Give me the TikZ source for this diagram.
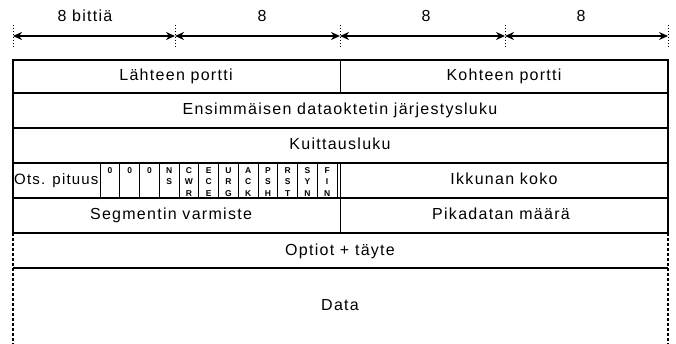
\documentclass[tikz,border=0pt]{standalone}
\usepackage{fontspec}
\setmainfont[LetterSpace=8]{Liberation Sans}
\usetikzlibrary{arrows.meta}

\tikzset{
  field/.style={font=\fontsize{16}{18}\selectfont, inner sep=0pt, text height=11pt, text depth=3pt},
  flagbit/.style={font=\fontsize{8.5}{11.5}\selectfont\bfseries, align=center, anchor=north, inner sep=0pt},
  thickline/.style={line width=2pt},
  thinline/.style={line width=0.9pt},
  tickline/.style={line width=0.9pt, dash pattern=on 1.5pt off 1.5pt},
  openside/.style={line width=2pt, dash pattern=on 3pt off 2pt},
  bitarrow/.style={line width=1.5pt, {Stealth[length=9pt,width=8pt]}-{Stealth[length=9pt,width=8pt]}}
}

\begin{document}
\begin{tikzpicture}[x=1pt,y=-1pt]
  \useasboundingbox (0,0) rectangle (676,344);

  % ruler
  \foreach \x [count=\i] in {13,175,340,505,668}{
    \draw[tickline] (\x,25) -- (\x,48);
    \coordinate (r\i) at (\x,36);
  }
  \foreach \a/\b in {1/2,2/3,3/4,4/5}
    \draw[bitarrow] (r\a) -- (r\b);
  \node[field] (w1) at (85,18) {8 bittiä};
  \node[field] (w2) at (262,18) {8};
  \node[field] (w3) at (426,18) {8};
  \node[field] (w4) at (581,18) {8};

  % frame and rows
  \draw[thickline] (13,233) -- (13,60) -- (668,60) -- (668,233);
  \foreach \y in {93,128,163,198,233,268}
    \draw[thickline] (13,\y) -- (668,\y);
  \draw[openside] (13,233) -- (13,344) (668,233) -- (668,344);

  % half words
  \draw[thinline] (340,60) -- (340,93) (340,163) -- (340,233);

  % flags
  \foreach \k in {0,...,12}
    \draw[thinline] ({100+19.75*\k},163) -- ({100+19.75*\k},198);
  \foreach \t [count=\k from 0] in {0,0,0,{N\\S},{C\\W\\R},{E\\C\\E},{U\\R\\G},{A\\C\\K},{P\\S\\H},{R\\S\\T},{S\\Y\\N},{F\\I\\N}}
    \node[flagbit] (f\k) at ({109.875+19.75*\k},167) {\t};

  % fields
  \node[field] (srcport) at (176,77) {Lähteen portti};
  \node[field] (dstport) at (504,77) {Kohteen portti};
  \node[field] (seqno) at (340,111) {Ensimmäisen dataoktetin järjestysluku};
  \node[field] (ackno) at (340,146) {Kuittausluku};
  \node[field, font=\fontsize{15}{18}\selectfont, anchor=west] (hlen) at (14,181) {Ots. pituus};
  \node[field] (window) at (504,181) {Ikkunan koko};
  \node[field] (checksum) at (171,216) {Segmentin varmiste};
  \node[field] (urgent) at (501,216) {Pikadatan määrä};
  \node[field] (options) at (340,251) {Optiot + täyte};
  \node[field] (data) at (340,306) {Data};
\end{tikzpicture}
\end{document}
